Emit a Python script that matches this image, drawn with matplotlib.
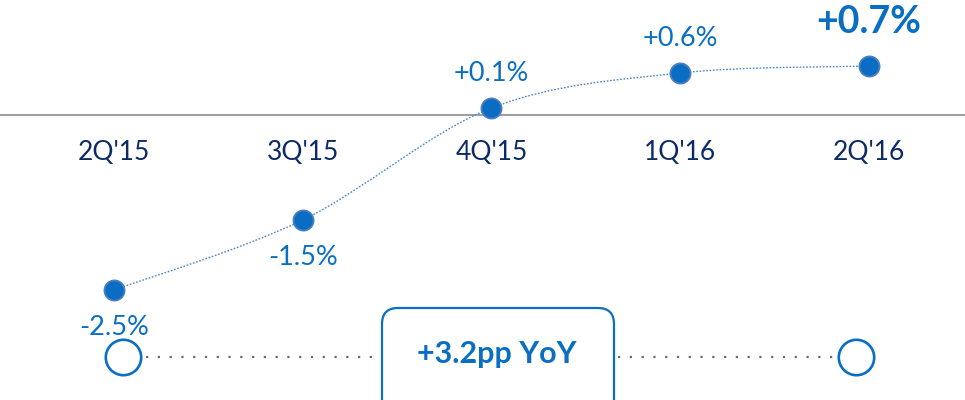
import matplotlib
matplotlib.use("Agg")
import matplotlib.pyplot as plt
from matplotlib.path import Path
from matplotlib.patches import PathPatch, FancyBboxPatch
import numpy as np

quarters = ["2Q'15", "3Q'15", "4Q'15", "1Q'16", "2Q'16"]
values = [-2.5, -1.5, 0.1, 0.6, 0.7]
value_labels = ["-2.5%", "-1.5%", "+0.1%", "+0.6%", "+0.7%"]
label_above = [False, False, True, True, True]
summary_text = "+3.2pp YoY"

FONT = "Lato"
NAVY = "#0b2a66"
BLUE = "#0a6fc2"
DOT = "#0b6cc3"

W, H = 965, 400
fig = plt.figure(figsize=(W / 100, H / 100), dpi=100)
ax = fig.add_axes([0, 0, 1, 1])
ax.set_axis_off()
ax.set_xlim(-0.604, 4.509)
ax.set_ylim(-4.071, 1.643)

x = np.arange(len(values))
y = np.array(values, dtype=float)

# zero line
ax.axhline(0, color="#a0a0a0", lw=1.5, zorder=1)

# smooth connector through the points (Catmull-Rom -> cubic Bezier)
verts = [(x[0], y[0])]
codes = [Path.MOVETO]
n = len(x)
for i in range(n - 1):
    p0 = np.array([x[max(i - 1, 0)], y[max(i - 1, 0)]])
    p1 = np.array([x[i], y[i]])
    p2 = np.array([x[i + 1], y[i + 1]])
    p3 = np.array([x[min(i + 2, n - 1)], y[min(i + 2, n - 1)]])
    c1 = p1 + (p2 - p0) / 6.0
    c2 = p2 - (p3 - p1) / 6.0
    verts += [tuple(c1), tuple(c2), tuple(p2)]
    codes += [Path.CURVE4] * 3
ax.add_patch(PathPatch(Path(verts, codes), facecolor="none", edgecolor="#4f86c6",
                       lw=1.0, linestyle=(0, (1.2, 1.2)), zorder=2))

ax.plot(x, y, "o", ms=14.5, mfc=DOT, mec="#4a7fc0", mew=1.3, zorder=3)

# category labels
for xi, q in zip(x, quarters):
    ax.annotate(q, (xi, 0), xytext=(0, -27), textcoords="offset points",
                ha="center", va="center", fontsize=19, color=NAVY, family=FONT)

# value labels
for i, (xi, yi, lab, up) in enumerate(zip(x, y, value_labels, label_above)):
    if i == n - 1:
        ax.annotate(lab, (xi, yi), xytext=(0, 32), textcoords="offset points",
                    ha="center", va="center", fontsize=27, fontweight="bold",
                    color=BLUE, family=FONT)
    else:
        off = 25 if up else -27
        ax.annotate(lab, (xi, yi), xytext=(0, off), textcoords="offset points",
                    ha="center", va="center", fontsize=19.5, color=BLUE, family=FONT)

# bottom decoration in pixel coordinates
ov = fig.add_axes([0, 0, 1, 1])
ov.set_axis_off()
ov.set_xlim(0, W)
ov.set_ylim(H, 0)
ov.patch.set_alpha(0)

ov.plot([146, 378], [357, 357], color="#6b6b6b", lw=1.6, linestyle=(0, (1, 4.3)),
        dash_capstyle="butt")
ov.plot([618, 836], [357, 357], color="#6b6b6b", lw=1.6, linestyle=(0, (1, 4.3)),
        dash_capstyle="butt")
ov.plot([123, 856], [357, 357], "o", ms=25.5, mfc="white", mec=BLUE, mew=1.9, ls="none")

box = FancyBboxPatch((382, 308), 232, 110, boxstyle="round,pad=0,rounding_size=16",
                     facecolor="white", edgecolor=BLUE, lw=1.6)
ov.add_patch(box)
ov.text(497, 354, summary_text, ha="center", va="center", fontsize=22,
        fontweight="bold", color=BLUE, family=FONT)

fig.savefig("out.png", dpi=100)
